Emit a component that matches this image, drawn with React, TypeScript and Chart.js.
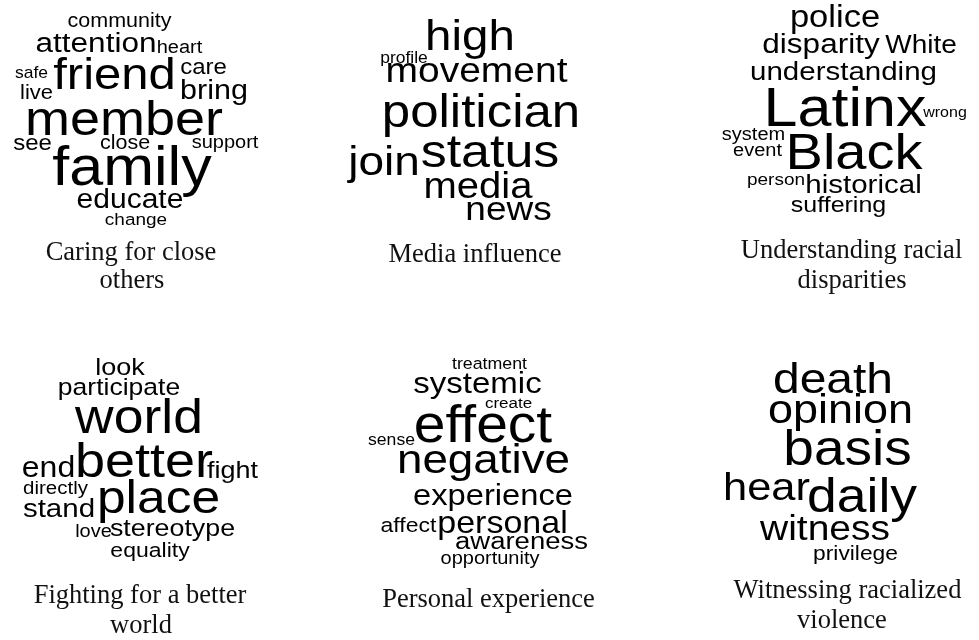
import React, { useEffect, useRef } from "react";
import { Chart, registerables } from "chart.js";
Chart.register(...registerables);

// [text, weight (font px), x, y] in each panel's own layout space
type Word = [string, number, number, number];

const caringWords: Word[] = [
  ["community", 21.5, 119.5, 27],
  ["attention", 31.5, 96, 52],
  ["heart", 20, 179.5, 53],
  ["friend", 49, 114.5, 89],
  ["care", 24, 203.5, 74],
  ["safe", 17.5, 31.5, 78],
  ["live", 22, 36.5, 99],
  ["bring", 30.5, 214, 99],
  ["member", 54, 124, 135],
  ["see", 24, 32.5, 150],
  ["close", 21.5, 125, 149],
  ["support", 20, 225, 148],
  ["family", 61, 132, 185],
  ["educate", 30, 130, 208],
  ["change", 19, 136, 225],
];
const caringCaption: Word[] = [
  ["Caring for close", 26.5, 131, 260],
  ["others", 26.5, 132, 288],
];

const mediaWords: Word[] = [
  ["high", 47.5, 140, 50],
  ["profile", 17.5, 74, 63],
  ["movement", 39, 146.5, 82],
  ["politician", 51, 151, 127],
  ["join", 46, 54, 175],
  ["status", 52, 160, 167],
  ["media", 40, 148, 198],
  ["news", 37, 178.5, 220],
];
const mediaCaption: Word[] = [["Media influence", 26.5, 145, 262]];

const racialWords: Word[] = [
  ["police", 34.5, 185, 27],
  ["disparity", 31.5, 171, 53],
  ["White", 28, 271, 53],
  ["understanding", 29.5, 193.5, 80],
  ["Latinx", 61, 195, 126],
  ["wrong", 16, 295, 117],
  ["system", 20, 103.5, 140],
  ["event", 20, 107.5, 156],
  ["Black", 56, 204, 169],
  ["person", 19, 126, 185],
  ["historical", 29.5, 213.5, 193],
  ["suffering", 25, 188.5, 212],
];
const racialCaption: Word[] = [
  ["Understanding racial", 26.5, 201.5, 258],
  ["disparities", 26.5, 202, 288],
];

const fightingWords: Word[] = [
  ["look", 27, 120, 35],
  ["participate", 26.5, 119, 55],
  ["world", 53.5, 139, 93],
  ["better", 54, 144, 137],
  ["end", 32, 48.5, 137],
  ["fight", 27, 232.5, 138],
  ["directly", 20.5, 55.5, 154],
  ["stand", 29.5, 59, 177],
  ["place", 51.5, 158.5, 173],
  ["love", 20, 93.5, 197],
  ["stereotype", 26.8, 172.5, 196],
  ["equality", 23, 150, 217],
];
const fightingCaption: Word[] = [
  ["Fighting for a better", 26.5, 140, 263],
  ["world", 26.5, 141, 293],
];

const personalWords: Word[] = [
  ["treatment", 17.8, 159.5, 29],
  ["systemic", 33, 147.5, 53],
  ["create", 17, 178.5, 68],
  ["effect", 57, 153, 102],
  ["sense", 17.6, 61.5, 105],
  ["negative", 45.8, 153.5, 133],
  ["experience", 32.7, 163, 165],
  ["affect", 23, 78.5, 192],
  ["personal", 34, 172.5, 193],
  ["awareness", 27.5, 191.5, 209],
  ["opportunity", 20, 160, 224],
];
const personalCaption: Word[] = [["Personal experience", 26.5, 158.5, 267]];

const witnessWords: Word[] = [
  ["death", 48, 183, 53],
  ["opinion", 45, 190.5, 83],
  ["basis", 55, 197.5, 125],
  ["hear", 43.5, 116.5, 160],
  ["daily", 53.5, 212, 172],
  ["witness", 39, 175, 200],
  ["privilege", 22.8, 205.5, 220],
];
const witnessCaption: Word[] = [
  ["Witnessing racialized", 26.5, 197.5, 258],
  ["violence", 26.5, 192, 288],
];

const panels = [
  { words: caringWords, caption: caringCaption, left: 0, top: 0, width: 330, height: 340 },
  { words: mediaWords, caption: mediaCaption, left: 330, top: 0, width: 320, height: 340 },
  { words: racialWords, caption: racialCaption, left: 650, top: 0, width: 329, height: 340 },
  { words: fightingWords, caption: fightingCaption, left: 0, top: 340, width: 330, height: 300 },
  { words: personalWords, caption: personalCaption, left: 330, top: 340, width: 320, height: 300 },
  { words: witnessWords, caption: witnessCaption, left: 650, top: 340, width: 329, height: 300 },
];

const wordPlugin = {
  id: "wordcloudText",
  afterDatasetsDraw(chart: any) {
    const ctx = chart.ctx;
    chart.data.datasets.forEach((ds: any, i: number) => {
      const meta = chart.getDatasetMeta(i);
      meta.data.forEach((el: any, j: number) => {
        const raw = ds.data[j];
        ctx.save();
        ctx.translate(el.x, el.y);
        ctx.scale(1, ds.verticalScale);
        ctx.font = `${raw.size}px ${ds.fontFamily}`;
        ctx.fillStyle = ds.textColor;
        ctx.textAlign = "center";
        ctx.textBaseline = "alphabetic";
        ctx.fillText(raw.text, 0, 0);
        ctx.restore();
      });
    });
  },
};

function toPoints(list: Word[]) {
  return list.map((w) => ({ text: w[0], size: w[1], x: w[2], y: w[3] }));
}

function Panel(props: { words: Word[]; caption: Word[]; left: number; top: number; width: number; height: number }) {
  const ref = useRef<HTMLCanvasElement | null>(null);
  useEffect(() => {
    if (!ref.current) return;
    const chart = new Chart(ref.current, {
      type: "scatter",
      data: {
        datasets: [
          {
            data: toPoints(props.words),
            pointRadius: 0,
            fontFamily: '"Liberation Sans", Arial, sans-serif',
            textColor: "#000000",
            verticalScale: 0.9,
          } as any,
          {
            data: toPoints(props.caption),
            pointRadius: 0,
            fontFamily: '"Liberation Serif", "Times New Roman", serif',
            textColor: "#111111",
            verticalScale: 1,
          } as any,
        ],
      },
      options: {
        animation: false,
        responsive: false,
        maintainAspectRatio: false,
        events: [],
        layout: { padding: 0 },
        plugins: { legend: { display: false }, tooltip: { enabled: false }, title: { display: false } },
        scales: {
          x: { type: "linear", min: 0, max: props.width, display: false },
          y: { type: "linear", min: 0, max: props.height, reverse: true, display: false },
        },
      },
      plugins: [wordPlugin],
    });
    return () => chart.destroy();
  }, []);
  return (
    <canvas
      ref={ref}
      width={props.width}
      height={props.height}
      style={{ position: "absolute", left: props.left, top: props.top, width: props.width, height: props.height }}
    />
  );
}

export default function App() {
  return (
    <div style={{ position: "fixed", left: 0, top: 0, width: 979, height: 640, background: "#ffffff", overflow: "hidden" }}>
      {panels.map((p, i) => (
        <Panel key={i} {...p} />
      ))}
    </div>
  );
}
